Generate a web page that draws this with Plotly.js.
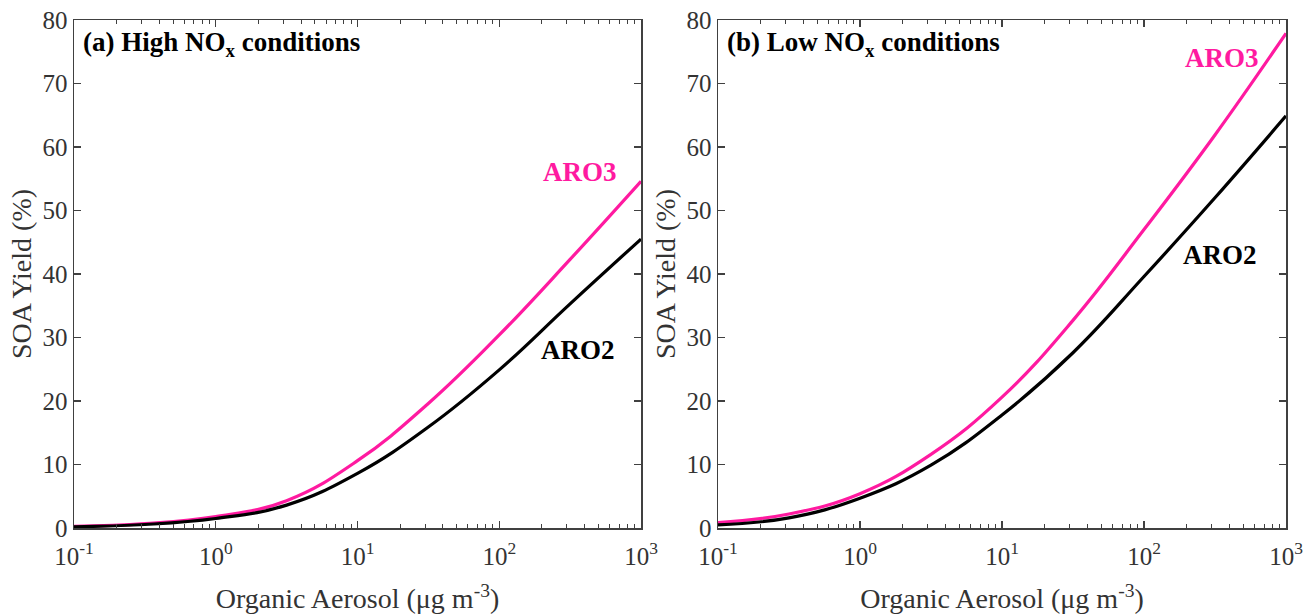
<!DOCTYPE html>
<html>
<head>
<meta charset="utf-8">
<script src="https://cdn.plot.ly/plotly-3.0.1.min.js"></script>
<style>
  html, body { margin: 0; padding: 0; background: #fff; }
  #chart { width: 1308px; height: 615px; }
</style>
</head>
<body>
<div id="chart"></div>
<script>
// Organic aerosol mass concentration (µg m-3), log axis
const organicAerosol = [0.1, 0.316, 1, 3.16, 10, 31.6, 100, 316, 1000];

// (a) High NOx conditions: SOA yield (%)
const highNOx_ARO3 = [0.25, 0.7, 1.8, 4.3, 10.6, 19.6, 30.4, 42.3, 54.6];
const highNOx_ARO2 = [0.2, 0.55, 1.5, 3.6, 8.6, 15.9, 24.9, 35.3, 45.5];

// (b) Low NOx conditions: SOA yield (%)
const lowNOx_ARO3 = [0.85, 2.2, 5.4, 11.6, 20.6, 32.7, 47.0, 61.9, 77.9];
const lowNOx_ARO2 = [0.5, 1.6, 4.7, 9.9, 17.8, 27.6, 39.6, 52.0, 64.9];

const xTickVals = [0.1, 1, 10, 100, 1000];
const xTickText = ['10<sup>-1</sup>', '10<sup>0</sup>', '10<sup>1</sup>', '10<sup>2</sup>', '10<sup>3</sup>'];
const yTickVals = [0, 10, 20, 30, 40, 50, 60, 70, 80];

const panelTitles = ['<b>(a) High NO<sub>x</sub> conditions</b>', '<b>(b) Low NO<sub>x</sub> conditions</b>'];
const seriesNames = ['ARO3', 'ARO2'];

const PINK = '#ff1aa0';
const BLACK = '#000000';
const AXC = '#404040';
const TXC = '#333333';
const FONT = 'Liberation Serif, Times New Roman, serif';

// minor tick positions on the log axes (2..9 in each decade)
const minorVals = [];
[0.1, 1, 10, 100].forEach(d => { for (let k = 2; k <= 9; k++) minorVals.push(d * k); });

function line(x, y, color, xa, ya, name) {
  return { x: x, y: y, type: 'scatter', mode: 'lines', name: name,
    line: { color: color, width: 3.2, shape: 'spline', smoothing: 1.2 },
    xaxis: xa, yaxis: ya, showlegend: false, hoverinfo: 'x+y' };
}

const data = [
  line(organicAerosol, highNOx_ARO3, PINK, 'x', 'y', seriesNames[0]),
  line(organicAerosol, highNOx_ARO2, BLACK, 'x', 'y', seriesNames[1]),
  line(organicAerosol, lowNOx_ARO3, PINK, 'x2', 'y2', seriesNames[0]),
  line(organicAerosol, lowNOx_ARO2, BLACK, 'x2', 'y2', seriesNames[1])
];

function xAxis(domain, anchor) {
  return {
    domain: domain, anchor: anchor, type: 'log', range: [-1, 3],
    tickmode: 'array', tickvals: xTickVals, ticktext: xTickText,
    ticks: 'inside', ticklen: 7, tickwidth: 1.2, tickcolor: AXC,
    ticklabelstandoff: 5,
    minor: { tickmode: 'array', tickvals: minorVals, ticks: 'inside', ticklen: 4, tickwidth: 1, tickcolor: AXC, showgrid: false },
    showline: true, linecolor: AXC, linewidth: 1.5, mirror: 'ticks',
    showgrid: false, zeroline: false,
    tickfont: { family: FONT, size: 25, color: TXC },
    title: { text: 'Organic Aerosol (μg m<sup>-3</sup>)', font: { family: FONT, size: 28, color: TXC }, standoff: 20 },
    automargin: false
  };
}
function yAxis(domain, anchor) {
  return {
    domain: domain, anchor: anchor, range: [0, 80],
    tickmode: 'array', tickvals: yTickVals,
    ticks: 'inside', ticklen: 7, tickwidth: 1.2, tickcolor: AXC,
    showline: true, linecolor: AXC, linewidth: 1.5, mirror: 'ticks',
    showgrid: false, zeroline: false,
    tickfont: { family: FONT, size: 25, color: TXC },
    title: { text: 'SOA Yield (%)', font: { family: FONT, size: 28, color: TXC }, standoff: 2 },
    automargin: false
  };
}

const yDom = [1 - 528 / 615, 1 - 20 / 615];

const layout = {
  width: 1308, height: 615,
  margin: { l: 0, r: 0, t: 0, b: 0 },
  paper_bgcolor: '#ffffff', plot_bgcolor: '#ffffff',
  font: { family: FONT },
  xaxis: xAxis([74 / 1308, 641 / 1308], 'y'),
  yaxis: yAxis(yDom, 'x'),
  xaxis2: xAxis([718 / 1308, 1286 / 1308], 'y2'),
  yaxis2: yAxis(yDom, 'x2'),
  annotations: [
    { xref: 'x domain', yref: 'y domain', x: 0.012, y: 0.952, xanchor: 'left', yanchor: 'middle', showarrow: false,
      text: panelTitles[0], font: { family: FONT, size: 27, color: '#000' } },
    { xref: 'x2 domain', yref: 'y2 domain', x: 0.012, y: 0.952, xanchor: 'left', yanchor: 'middle', showarrow: false,
      text: panelTitles[1], font: { family: FONT, size: 27, color: '#000' } },
    { xref: 'x domain', yref: 'y domain', x: 0.892, y: 0.70, xanchor: 'center', yanchor: 'middle', showarrow: false,
      text: '<b>' + seriesNames[0] + '</b>', font: { family: FONT, size: 27, color: PINK } },
    { xref: 'x domain', yref: 'y domain', x: 0.889, y: 0.35, xanchor: 'center', yanchor: 'middle', showarrow: false,
      text: '<b>' + seriesNames[1] + '</b>', font: { family: FONT, size: 27, color: BLACK } },
    { xref: 'x2 domain', yref: 'y2 domain', x: 0.887, y: 0.925, xanchor: 'center', yanchor: 'middle', showarrow: false,
      text: '<b>' + seriesNames[0] + '</b>', font: { family: FONT, size: 27, color: PINK } },
    { xref: 'x2 domain', yref: 'y2 domain', x: 0.884, y: 0.537, xanchor: 'center', yanchor: 'middle', showarrow: false,
      text: '<b>' + seriesNames[1] + '</b>', font: { family: FONT, size: 27, color: BLACK } }
  ]
};

Plotly.newPlot('chart', data, layout, { displayModeBar: false, staticPlot: true });
</script>
</body>
</html>
